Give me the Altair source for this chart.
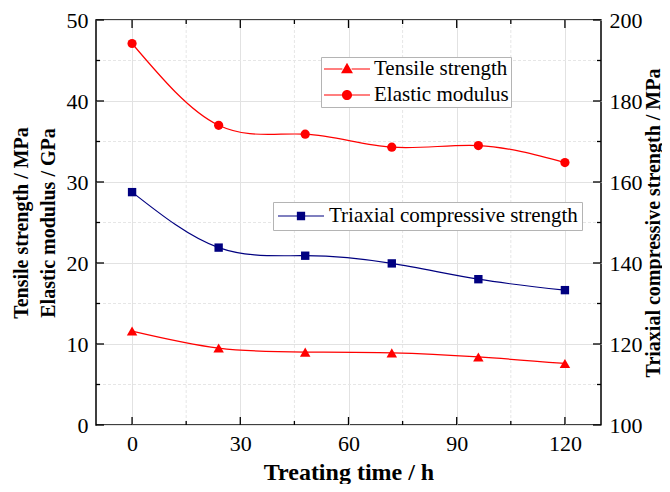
import altair as alt
import pandas as pd

# ---- data ----
time_h = [0, 24, 48, 72, 96, 120]
tensile = [11.6, 9.5, 9.0, 8.9, 8.4, 7.6]
elastic = [47.1, 37.0, 35.9, 34.3, 34.5, 32.4]
triaxial = [157.5, 143.8, 141.8, 139.9, 136.0, 133.3]

x_major = [0, 30, 60, 90, 120]
x_minor = [15, 45, 75, 105]
y_major = [0, 10, 20, 30, 40, 50]
y_minor = [5, 15, 25, 35, 45]
y2_major = [100, 120, 140, 160, 180, 200]

S_TEN = "Tensile strength"
S_ELA = "Elastic modulus"
S_TRI = "Triaxial compressive strength"

W, H = 505, 405
FONT = "Liberation Serif"
RED = "#ff0000"
NAVY = "#000080"
MAJ, MIN = 8, 4

left_df = pd.DataFrame({
    "time": time_h * 2,
    "value": tensile + elastic,
    "series": [S_TEN] * len(time_h) + [S_ELA] * len(time_h),
})
ten_df = pd.DataFrame({"time": time_h, "value": tensile})
ela_df = pd.DataFrame({"time": time_h, "value": elastic})
tri_df = pd.DataFrame({"time": time_h, "value": triaxial, "series": [S_TRI] * len(time_h)})
xmaj_df = pd.DataFrame({"v": x_major})
xmin_df = pd.DataFrame({"v": x_minor})
ymaj_df = pd.DataFrame({"v": y_major})
ymin_df = pd.DataFrame({"v": y_minor})

xs = alt.Scale(domain=[-10, 130], nice=False, zero=False)
ys = alt.Scale(domain=[0, 50], nice=False)
ys2 = alt.Scale(domain=[100, 200], nice=False, zero=False)

common = dict(ticks=False, domain=False, labelFont=FONT, labelFontSize=22,
              labelColor="black", titleFont=FONT, titleFontWeight="bold",
              titleColor="black")
x_axis = alt.Axis(values=x_major, title="Treating time / h", grid=True,
                  gridColor="#e2e2e2", gridWidth=1, labelPadding=8,
                  titleFontSize=24, titlePadding=6, **common)
y_axis = alt.Axis(values=y_major, title=["Tensile strength / MPa", "Elastic modulus / GPa"],
                  grid=True, gridColor="#e2e2e2", gridWidth=1, labelPadding=8,
                  titleFontSize=20, titleLineHeight=27, titlePadding=8, **common)
y2_axis = alt.Axis(values=y2_major, orient="right", title="Triaxial compressive strength / MPa",
                   grid=False, labelPadding=8, titleFontSize=20, titlePadding=1,
                   titleAngle=270, titleBaseline="top", **common)


def XF(field):
    return alt.X(field, type="quantitative", scale=xs, axis=x_axis)


def YF(field):
    return alt.Y(field, type="quantitative", scale=ys, axis=y_axis)


# minor dashed grid
grid_xmin = alt.Chart(xmin_df).mark_rule(color="#e6e6e6", strokeDash=[3, 2], strokeWidth=1).encode(x=XF("v"))
grid_ymin = alt.Chart(ymin_df).mark_rule(color="#e6e6e6", strokeDash=[3, 2], strokeWidth=1).encode(y=YF("v"))


# inward ticks on all four sides
def yticks(df, length):
    base = alt.Chart(df).mark_rule(color="black", strokeWidth=1.3)
    return [
        base.encode(y=YF("v"), x=alt.value(0), x2=alt.value(length)),
        base.encode(y=YF("v"), x=alt.value(W), x2=alt.value(W - length)),
    ]


def xticks(df, length):
    base = alt.Chart(df).mark_rule(color="black", strokeWidth=1.3)
    return [
        base.encode(x=XF("v"), y=alt.value(H), y2=alt.value(H - length)),
        base.encode(x=XF("v"), y=alt.value(0), y2=alt.value(length)),
    ]


tick_layers = yticks(ymaj_df, MAJ) + yticks(ymin_df, MIN) + xticks(xmaj_df, MAJ) + xticks(xmin_df, MIN)


# legend symbols: a thin line with the marker in its middle (all filled, clockwise)
def seg(a, b, h=0.022):
    return f"M{a},{-h}L{b},{-h}L{b},{h}L{a},{h}Z"


tri_path = seg(-1, -0.2) + seg(0.2, 1) + "M0,-0.27L0.26,0.19L-0.26,0.19Z"
circ_path = seg(-1, -0.2) + seg(0.2, 1) + "M0.22,0A0.22,0.22,0,1,1,-0.22,0A0.22,0.22,0,1,1,0.22,0Z"
sq_path = seg(-1, -0.17) + seg(0.17, 1) + "M-0.18,-0.18L0.18,-0.18L0.18,0.18L-0.18,0.18Z"

legend_common = dict(title=None, orient="none", fillColor="white", strokeColor="#b4b4b4",
                     labelFont=FONT, labelFontSize=21, labelColor="black", labelLimit=400,
                     symbolSize=2116, symbolStrokeWidth=1.2, symbolOpacity=1,
                     clipHeight=20, rowPadding=5)

leg1 = alt.Legend(legendX=225, legendY=37, padding=2, labelOffset=3,
                  symbolFillColor=RED, symbolStrokeColor=RED, **legend_common)
leg2 = alt.Legend(legendX=177, legendY=182, padding=4, labelOffset=4,
                  symbolFillColor=NAVY, symbolStrokeColor=NAVY, **legend_common)

lines_left = alt.Chart(left_df).mark_line(interpolate="natural", strokeWidth=1.2, color=RED).encode(
    x=XF("time"), y=YF("value"), detail="series:N")
pts_ten = alt.Chart(ten_df).mark_point(shape="triangle-up", filled=True, color=RED, size=110, opacity=1).encode(
    x=XF("time"), y=YF("value"))
pts_ela = alt.Chart(ela_df).mark_point(shape="circle", filled=True, color=RED, size=85, opacity=1).encode(
    x=XF("time"), y=YF("value"))
legend_left = alt.Chart(left_df).mark_point(filled=True, fill=RED, stroke=RED, opacity=0, size=2116).encode(
    x=XF("time"), y=YF("value"),
    shape=alt.Shape("series:N", scale=alt.Scale(domain=[S_TEN, S_ELA], range=[tri_path, circ_path]), legend=leg1),
)

left_group = alt.layer(grid_xmin, grid_ymin, *tick_layers, lines_left, pts_ten, pts_ela, legend_left)

Y2 = alt.Y("value", type="quantitative", scale=ys2, axis=y2_axis)
lines_tri = alt.Chart(tri_df).mark_line(interpolate="natural", strokeWidth=1.2, color=NAVY).encode(
    x=XF("time"), y=Y2)
pts_tri = alt.Chart(tri_df).mark_point(shape="square", filled=True, color=NAVY, size=70, opacity=1).encode(
    x=XF("time"), y=Y2)
legend_right = alt.Chart(tri_df).mark_point(filled=True, fill=NAVY, stroke=NAVY, opacity=0, size=2116).encode(
    x=XF("time"), y=Y2,
    shape=alt.Shape("series:N", scale=alt.Scale(domain=[S_TRI], range=[sq_path]), legend=leg2),
)
right_group = alt.layer(lines_tri, pts_tri, legend_right)

chart = alt.layer(left_group, right_group).resolve_scale(
    y="independent", shape="independent"
).properties(
    width=W, height=H,
    autosize=alt.AutoSizeParams(type="none"),
    padding={"left": 88, "top": 12, "right": 61, "bottom": 59},
    background="white",
).configure_view(stroke="black", strokeWidth=1.5)

chart.save("out.html", embed_options={"renderer": "svg", "actions": False})
